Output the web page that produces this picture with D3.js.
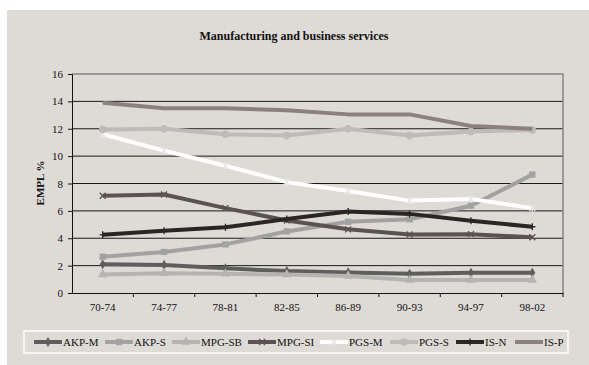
<!DOCTYPE html>
<html>
<head>
<meta charset="utf-8">
<script src="https://cdn.jsdelivr.net/npm/d3@7"></script>
<style>
  body { margin: 0; background: #fff; }
  svg { display: block; }
  text { font-family: "Liberation Serif", "Times New Roman", serif; fill: #111; }
</style>
</head>
<body>
<svg width="589" height="365"></svg>
<script>
const periods = ["70-74","74-77","78-81","82-85","86-89","90-93","94-97","98-02"];
const yTicks = [0,2,4,6,8,10,12,14,16];

const akpM  = [2.1, 2.05, 1.8, 1.6, 1.5, 1.4, 1.48, 1.48];
const akpS  = [2.65, 3.0, 3.55, 4.5, 5.2, 5.38, 6.38, 8.65];
const mpgSB = [1.35, 1.45, 1.4, 1.35, 1.25, 0.95, 0.95, 0.95];
const mpgSI = [7.1, 7.2, 6.2, 5.3, 4.65, 4.28, 4.3, 4.07];
const pgsM  = [11.6, 10.4, 9.3, 8.1, 7.45, 6.75, 6.87, 6.2];
const pgsS  = [11.95, 12.0, 11.6, 11.5, 12.0, 11.5, 11.8, 11.9];
const isN   = [4.25, 4.55, 4.8, 5.4, 5.95, 5.78, 5.28, 4.84];
const isP   = [13.9, 13.5, 13.5, 13.35, 13.05, 13.05, 12.2, 12.0];

const series = [
  {name:"AKP-M",  vals:akpM,  color:"#5e5e5e", mark:"diamond"},
  {name:"AKP-S",  vals:akpS,  color:"#a2a2a2", mark:"square"},
  {name:"MPG-SB", vals:mpgSB, color:"#b6b4b2", mark:"triangle"},
  {name:"MPG-SI", vals:mpgSI, color:"#5a5351", mark:"cross"},
  {name:"PGS-M",  vals:pgsM,  color:"#ffffff", mark:"star"},
  {name:"PGS-S",  vals:pgsS,  color:"#bebbb8", mark:"circle"},
  {name:"IS-N",   vals:isN,   color:"#2a2624", mark:"plus"},
  {name:"IS-P",   vals:isP,   color:"#8b8280", mark:"none"}
];

const margin = {left:72, top:74, right:563, bottom:293};

const svg = d3.select("svg");

// grey chart background
svg.append("rect")
   .attr("x",7).attr("y",10)
   .attr("width",582).attr("height",355)
   .style("fill","#dedad6");

svg.append("text")
   .attr("x",294).attr("y",40)
   .attr("text-anchor","middle")
   .style("font-size","12px").style("font-weight","bold")
   .text("Manufacturing and business services");

const x = d3.scaleBand().domain(periods).range([margin.left, margin.right]);
const y = d3.scaleLinear().domain([0,16]).range([margin.bottom, margin.top]);

// gridlines
svg.append("g").selectAll("line")
   .data(yTicks.filter(d => d > 0 && d < 16))
   .join("line")
   .attr("x1",margin.left).attr("x2",margin.right)
   .attr("y1",d => y(d)).attr("y2",d => y(d))
   .style("stroke","#1a1a1a").style("stroke-width",1);

// plot border top/right
svg.append("path")
   .attr("d",`M${margin.left},${y(16)}H${margin.right}V${margin.bottom}`)
   .style("fill","none").style("stroke","#858585").style("stroke-width",1.5);

const yAxis = svg.append("g")
   .attr("transform",`translate(${margin.left},0)`)
   .call(d3.axisLeft(y).tickValues(yTicks).tickSize(4).tickPadding(5));
const xAxis = svg.append("g")
   .attr("transform",`translate(0,${margin.bottom})`)
   .call(d3.axisBottom(x).tickSize(0).tickPadding(10));
// ticks between categories
xAxis.selectAll("line.sep")
   .data(periods.slice(1).concat(["end"]))
   .join("line").attr("class","sep")
   .attr("x1",(d,i) => x(periods[i]) + x.bandwidth())
   .attr("x2",(d,i) => x(periods[i]) + x.bandwidth())
   .attr("y1",0).attr("y2",4)
   .style("stroke","#111");

[yAxis, xAxis].forEach(function(g){
  g.select(".domain").style("stroke","#111").style("stroke-width",1);
  g.selectAll(".tick line").style("stroke","#111");
  g.selectAll("text").style("font-family","Liberation Serif, serif")
   .style("font-size","11px").style("fill","#111");
});

svg.append("text")
   .attr("transform","translate(44,183) rotate(-90)")
   .attr("text-anchor","middle")
   .style("font-size","11px").style("font-weight","bold")
   .text("EMPL %");

function markerPath(type){
  switch(type){
    case "diamond":  return d3.symbol(d3.symbolDiamond, 30)();
    case "square":   return d3.symbol(d3.symbolSquare, 40)();
    case "triangle": return d3.symbol(d3.symbolTriangle, 40)();
    case "circle":   return d3.symbol(d3.symbolCircle, 45)();
    case "cross":    return "M-3,-3L3,3M-3,3L3,-3";
    case "plus":     return "M0,-3.5V3.5M-3,0H3";
    case "star":     return "M-3,-3L3,3M-3,3L3,-3M0,-3.5V3.5";
    default:         return null;
  }
}
const strokeMarks = ["cross","plus","star"];

const line = d3.line()
   .x((d,i) => x(periods[i]) + x.bandwidth()/2)
   .y(d => y(d));

series.forEach(function(s){
  svg.append("path")
     .datum(s.vals)
     .attr("d",line)
     .style("fill","none")
     .style("stroke",s.color)
     .style("stroke-width",4)
     .style("stroke-linejoin","round");
  if (s.mark === "none") return;
  svg.append("g").selectAll("path")
     .data(s.vals)
     .join("path")
     .attr("transform",(d,i) => `translate(${x(periods[i]) + x.bandwidth()/2},${y(d)})`)
     .attr("d",markerPath(s.mark))
     .style("fill",strokeMarks.includes(s.mark) ? "none" : s.color)
     .style("stroke",strokeMarks.includes(s.mark) ? (s.mark === "star" ? "#e8e8e8" : s.color) : "none")
     .style("stroke-width",1.3);
});

// legend
svg.append("rect")
   .attr("x",24).attr("y",331)
   .attr("width",544).attr("height",22)
   .style("fill","none").style("stroke","#ffffff").style("stroke-width",1.5);

const legendX = [34, 105, 172, 248, 320, 390, 456, 515];
series.forEach(function(s,i){
  const g = svg.append("g").attr("transform",`translate(${legendX[i]},342)`);
  g.append("line")
   .attr("x1",0).attr("x2",28).attr("y1",0).attr("y2",0)
   .style("stroke",s.color).style("stroke-width",4);
  if (s.mark !== "none"){
    g.append("path")
     .attr("transform","translate(14,0)")
     .attr("d",markerPath(s.mark))
     .style("fill",strokeMarks.includes(s.mark) ? "none" : s.color)
     .style("stroke",strokeMarks.includes(s.mark) ? (s.mark === "star" ? "#e8e8e8" : s.color) : "none")
     .style("stroke-width",1.3);
  }
  g.append("text")
   .attr("x",29).attr("y",4)
   .style("font-size","11px")
   .text(s.name);
});
</script>
</body>
</html>
